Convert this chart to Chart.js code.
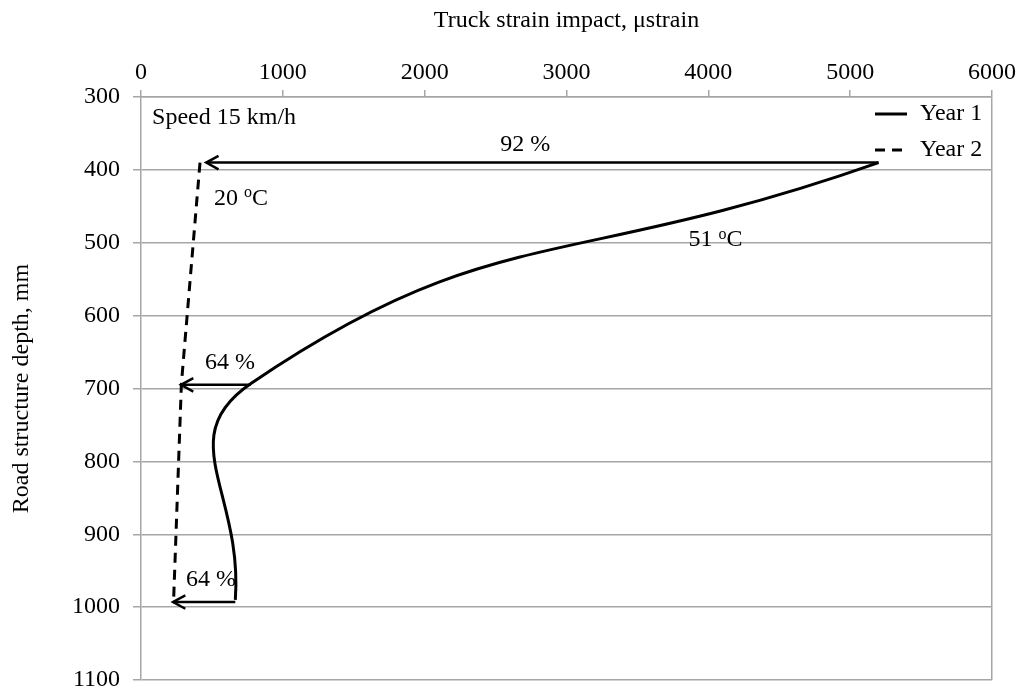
<!DOCTYPE html>
<html>
<head>
<meta charset="utf-8">
<script src="https://cdn.jsdelivr.net/npm/chart.js@4.4.0/dist/chart.umd.min.js"></script>
<style>
  html, body { margin: 0; padding: 0; background: #fff; }
  #wrap { width: 1021px; height: 691px; }
</style>
</head>
<body>
<div id="wrap"><canvas id="strainChart"></canvas></div>
<script>
/* ---------- data ---------- */
const depths = [390, 693, 990];           // road structure depth, mm
const year1 = [5200, 775, 665];           // strain, year 1
const year2 = [416, 285, 230];            // strain, year 2
const arrowStart = [5200, 775, 665];
const arrowEnd = [460, 282, 226];
const arrowDepth = [390, 695, 993];
const xTicks = [0, 1000, 2000, 3000, 4000, 5000, 6000];
const yTicks = [300, 400, 500, 600, 700, 800, 900, 1000, 1100];

/* ---------- text notes (position in data units) ---------- */
const notes = [
  { text: "Speed 15 km/h", x: 78, y: 329, align: "left" },
  { text: "92 %", x: 2710, y: 366, align: "center" },
  { text: "20 ^oC", x: 515, y: 439, align: "left" },
  { text: "51 ^oC", x: 3860, y: 496, align: "left" },
  { text: "64 %", x: 452, y: 664, align: "left" },
  { text: "64 %", x: 318, y: 963, align: "left" },
];

const FONT = "'Liberation Serif', 'Times New Roman', serif";
const FS = 24;
const GRID = "#a6a6a6";

const toPts = (xs, ys) => xs.map((v, i) => ({ x: v, y: ys[i] }));

const arrowSets = arrowStart.map((s, i) => ({
  label: "arrow",
  data: [{ x: s, y: arrowDepth[i] }, { x: arrowEnd[i], y: arrowDepth[i] }],
  showLine: true,
  borderColor: "#000",
  borderWidth: 2.5,
  pointRadius: 0,
  tension: 0,
}));

/* ---------- plugins ---------- */
const arrowHeads = {
  id: "arrowHeads",
  afterDatasetsDraw(chart) {
    const ctx = chart.ctx;
    chart.data.datasets.forEach((ds, i) => {
      if (ds.label !== "arrow") return;
      const pts = chart.getDatasetMeta(i).data;
      const a = pts[0], b = pts[pts.length - 1];
      const ang = Math.atan2(b.y - a.y, b.x - a.x);
      const len = 14;
      ctx.save();
      ctx.strokeStyle = "#000";
      ctx.lineWidth = 2.5;
      ctx.beginPath();
      ctx.moveTo(b.x - len * Math.cos(ang - 0.5), b.y - len * Math.sin(ang - 0.5));
      ctx.lineTo(b.x, b.y);
      ctx.lineTo(b.x - len * Math.cos(ang + 0.5), b.y - len * Math.sin(ang + 0.5));
      ctx.stroke();
      ctx.restore();
    });
  },
};

function drawRich(ctx, str, x, y, align) {
  // "^o" -> superscript o
  const parts = [];
  for (let i = 0; i < str.length; i++) {
    if (str[i] === "^") { parts.push({ t: str[i + 1], sup: true }); i++; }
    else parts.push({ t: str[i], sup: false });
  }
  const big = FS + "px " + FONT, small = "16px " + FONT;
  let w = 0;
  parts.forEach(p => { ctx.font = p.sup ? small : big; w += ctx.measureText(p.t).width; });
  let cx = align === "center" ? x - w / 2 : x;
  ctx.textAlign = "left";
  ctx.textBaseline = "middle";
  parts.forEach(p => {
    ctx.font = p.sup ? small : big;
    ctx.fillText(p.t, cx, p.sup ? y - 5 : y);
    cx += ctx.measureText(p.t).width;
  });
}

const notesPlugin = {
  id: "notes",
  afterDatasetsDraw(chart) {
    const ctx = chart.ctx;
    const xs = chart.scales.x, ys = chart.scales.y;
    ctx.save();
    ctx.fillStyle = "#000";
    notes.forEach(n => drawRich(ctx, n.text, xs.getPixelForValue(n.x), ys.getPixelForValue(n.y), n.align));
    ctx.restore();
  },
};

const legendBox = {
  id: "legendBox",
  afterDatasetsDraw(chart) {
    const ctx = chart.ctx;
    const area = chart.chartArea;
    const items = chart.data.datasets.filter(d => d.label !== "arrow");
    ctx.save();
    items.forEach((d, i) => {
      const y = area.top + 17 + i * 36;
      const x0 = area.right - 117;
      ctx.strokeStyle = d.borderColor;
      ctx.lineWidth = d.borderWidth;
      ctx.setLineDash(d.borderDash || []);
      ctx.beginPath();
      ctx.moveTo(x0, y);
      ctx.lineTo(x0 + 32, y);
      ctx.stroke();
      ctx.setLineDash([]);
      ctx.fillStyle = "#000";
      ctx.font = FS + "px " + FONT;
      ctx.textAlign = "left";
      ctx.textBaseline = "middle";
      ctx.fillText(d.label, x0 + 45, y);
    });
    ctx.restore();
  },
};

/* ---------- chart ---------- */
new Chart(document.getElementById("strainChart"), {
  type: "scatter",
  plugins: [arrowHeads, notesPlugin, legendBox],
  data: {
    datasets: [
      {
        label: "Year 1",
        data: toPts(year1, depths),
        showLine: true,
        borderColor: "#000",
        borderWidth: 3,
        pointRadius: 0,
        tension: 0.5,
      },
      {
        label: "Year 2",
        data: toPts(year2, depths),
        showLine: true,
        borderColor: "#000",
        borderWidth: 3,
        borderDash: [10, 7],
        pointRadius: 0,
        tension: 0,
      },
      ...arrowSets,
    ],
  },
  options: {
    responsive: true,
    maintainAspectRatio: false,
    animation: false,
    layout: { padding: { left: 0, right: 29, top: 0, bottom: 11 } },
    plugins: { legend: { display: false }, tooltip: { enabled: false } },
    scales: {
      x: {
        type: "linear",
        position: "top",
        min: 0,
        max: 6000,
        afterBuildTicks: s => { s.ticks = xTicks.map(v => ({ value: v })); },
        afterFit: s => { s.height = 97; s.paddingLeft = 0; s.paddingRight = 0; },
        ticks: {
          color: "#000",
          font: { family: FONT, size: FS },
          padding: 3,
          maxRotation: 0,
          callback: v => String(v),
        },
        grid: {
          drawOnChartArea: true,
          color: c => (c.tick && c.tick.value === 6000 ? GRID : "rgba(0,0,0,0)"),
          tickColor: GRID,
          tickLength: 7,
          lineWidth: 1.5,
        },
        border: { color: GRID, width: 1.5 },
        title: {
          display: true,
          text: "Truck strain impact, μstrain",
          color: "#000",
          font: { family: FONT, size: FS },
          padding: { top: 6, bottom: 0 },
        },
      },
      y: {
        type: "linear",
        reverse: true,
        min: 300,
        max: 1100,
        afterBuildTicks: s => { s.ticks = yTicks.map(v => ({ value: v })); },
        afterFit: s => { s.width = 141; s.paddingTop = 0; s.paddingBottom = 0; },
        ticks: {
          color: "#000",
          font: { family: FONT, size: FS },
          padding: 13,
          callback: v => String(v),
        },
        grid: { color: GRID, tickColor: GRID, tickLength: 8, lineWidth: 1.5 },
        border: { color: GRID, width: 1.5 },
        title: {
          display: true,
          text: "Road structure depth, mm",
          color: "#000",
          font: { family: FONT, size: FS },
          padding: { top: 7, bottom: 0 },
        },
      },
    },
  },
});
</script>
</body>
</html>
